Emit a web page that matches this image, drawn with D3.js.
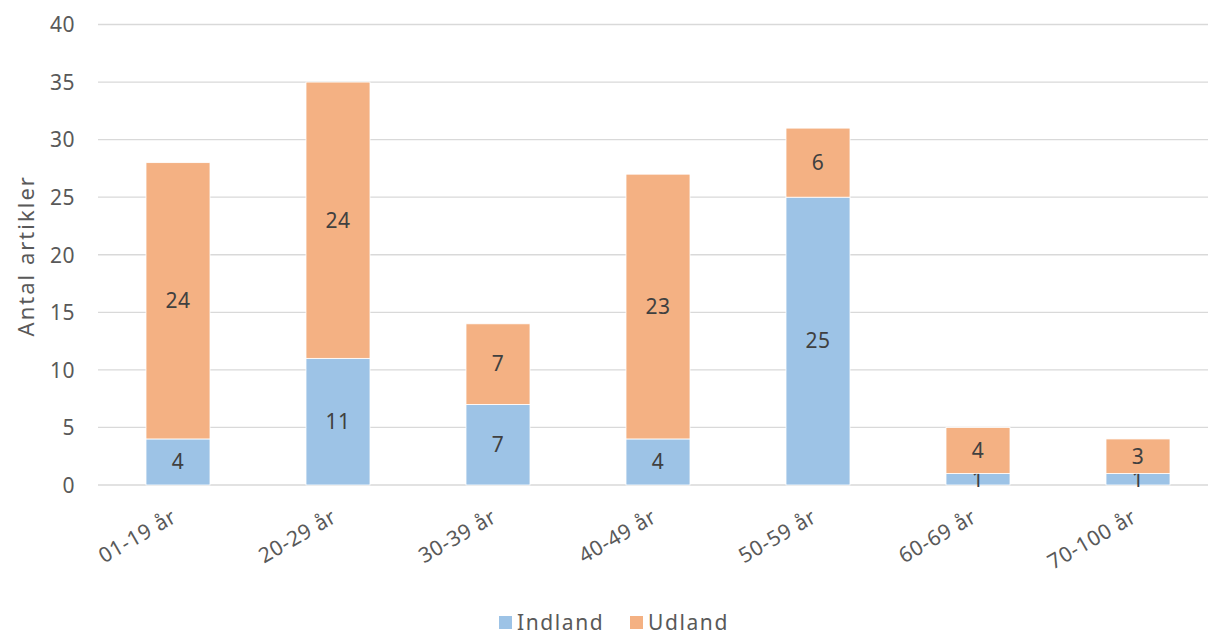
<!DOCTYPE html>
<html>
<head>
<meta charset="utf-8">
<script src="https://cdn.jsdelivr.net/npm/d3@7"></script>
<style>
  body { margin: 0; background: #fff; }
  text { font-family: "Noto Sans", "DejaVu Sans", sans-serif; fill: #595959; }
</style>
</head>
<body>
<div id="chart-area"></div>
<script>
var categories = ["01-19 år", "20-29 år", "30-39 år", "40-49 år", "50-59 år", "60-69 år", "70-100 år"];
var indland = [4, 11, 7, 4, 25, 1, 1];
var udland = [24, 24, 7, 23, 6, 4, 3];
var seriesNames = ["Indland", "Udland"];
var seriesColors = ["#9DC3E6", "#F4B183"];
var yTicks = [0, 5, 10, 15, 20, 25, 30, 35, 40];

var margin = { top: 24.5, right: -10, bottom: 149, left: 98 };
var width = 1208 - margin.left - margin.right;
var height = 634 - margin.top - margin.bottom;

var svg = d3.select("#chart-area").append("svg")
    .attr("width", 1208)
    .attr("height", 634);

var g = svg.append("g")
    .attr("transform", "translate(" + margin.left + "," + margin.top + ")");

var rows = categories.map(function (c, i) {
    return { cat: c, Indland: indland[i], Udland: udland[i] };
});

var xScale = d3.scaleBand()
    .domain(categories)
    .range([0, width])
    .paddingInner(0.6)
    .paddingOuter(0.3);

var yScale = d3.scaleLinear()
    .domain([0, 40])
    .range([height, 0]);

// gridlines
g.selectAll(".grid")
    .data(yTicks)
    .enter().append("line")
    .attr("x1", 0)
    .attr("x2", 1208 - margin.left)
    .attr("y1", function (d) { return yScale(d); })
    .attr("y2", function (d) { return yScale(d); })
    .attr("stroke", "#d9d9d9")
    .attr("stroke-width", 1.3);

// y axis
var yAxis = g.append("g")
    .attr("transform", "translate(-23,0)")
    .call(d3.axisLeft(yScale).tickValues(yTicks).tickSize(0).tickPadding(0));
yAxis.select(".domain").remove();
yAxis.selectAll("text")
    .style("font-size", "21px")
    .style("font-family", "\"Noto Sans\", sans-serif")
    .style("letter-spacing", "0.5px")
    .attr("dy", "0.35em");

g.append("text")
    .attr("transform", "rotate(-90)")
    .attr("x", -(yScale(20) + 1))
    .attr("y", -64)
    .style("text-anchor", "middle")
    .style("font-size", "22px")
    .style("letter-spacing", "2px")
    .text("Antal artikler");

// stacked bars
var stack = d3.stack().keys(seriesNames);
var stacked = stack(rows);

var layers = g.selectAll(".layer")
    .data(stacked)
    .enter().append("g")
    .attr("fill", function (d, i) { return seriesColors[i]; });

layers.selectAll("rect")
    .data(function (d) { return d; })
    .enter().append("rect")
    .attr("x", function (d) { return xScale(d.data.cat); })
    .attr("width", xScale.bandwidth())
    .attr("y", function (d) { return yScale(d[1]); })
    .attr("height", function (d) { return yScale(d[0]) - yScale(d[1]); })
    .attr("stroke", "#fff")
    .attr("stroke-width", 0.8);

layers.selectAll(".lbl")
    .data(function (d) { return d; })
    .enter().append("text")
    .attr("x", function (d) { return xScale(d.data.cat) + xScale.bandwidth() / 2; })
    .attr("y", function (d) { return yScale((d[0] + d[1]) / 2); })
    .attr("dy", "0.35em")
    .style("text-anchor", "middle")
    .style("font-size", "21px")
    .style("letter-spacing", "0.5px")
    .style("fill", "#404040")
    .text(function (d) { return d[1] - d[0]; });

// x axis labels
var xAxis = g.append("g")
    .attr("transform", "translate(0," + height + ")")
    .call(d3.axisBottom(xScale).tickSize(0).tickPadding(0));
xAxis.select(".domain").remove();
xAxis.selectAll("text")
    .style("font-size", "21px")
    .style("font-family", "\"Noto Sans\", sans-serif")
    .style("letter-spacing", "0.6px")
    .style("text-anchor", "end")
    .attr("dy", "0")
    .attr("transform", "translate(0,36) rotate(-30)");

// legend
var legend = svg.append("g")
    .attr("transform", "translate(499,616)");
var legendX = [0, 131];
seriesNames.forEach(function (name, i) {
    legend.append("rect")
        .attr("x", legendX[i])
        .attr("y", 0)
        .attr("width", 13)
        .attr("height", 13)
        .attr("fill", seriesColors[i]);
    legend.append("text")
        .attr("x", legendX[i] + 18)
        .attr("y", 7)
        .attr("dy", "0.35em")
        .style("font-size", "21px")
        .style("letter-spacing", "1.6px")
        .text(name);
});
</script>
</body>
</html>
